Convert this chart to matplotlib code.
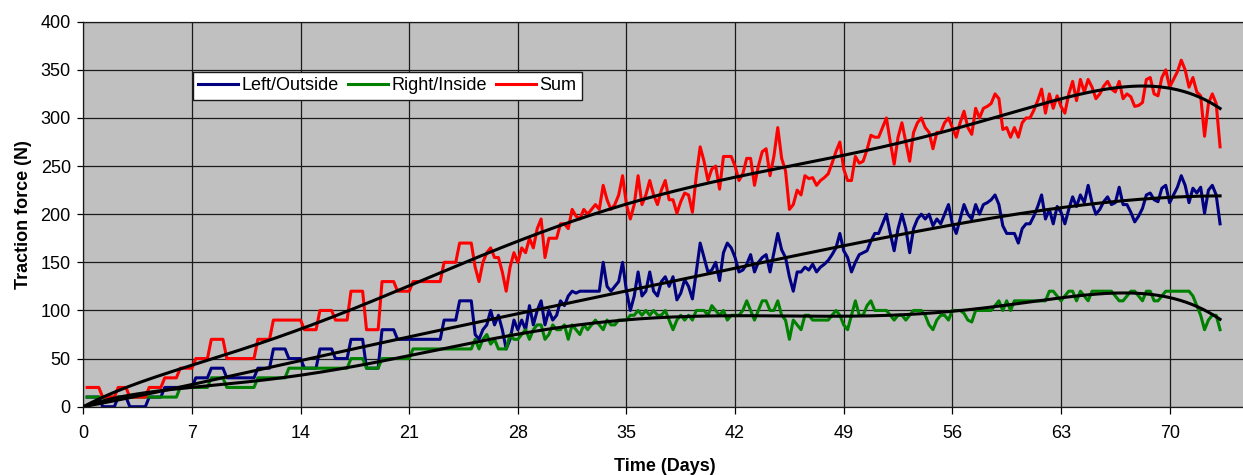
import matplotlib.pyplot as plt
import numpy as np

plt.rcParams['font.family'] = ['Liberation Sans', 'DejaVu Sans']

# readings every 6 hours, starting at 0.25 days
days = np.arange(1, 294) * 0.25

left_outside = [
    10, 10, 10, 10, 0, 0, 0, 0, 10, 10, 10, 0, 0, 0, 0, 0,
    10, 10, 10, 10, 20, 20, 20, 20, 20, 20, 20, 20, 30, 30, 30, 30,
    40, 40, 40, 40, 30, 30, 30, 30, 30, 30, 30, 30, 40, 40, 40, 40,
    60, 60, 60, 60, 50, 50, 50, 50, 40, 40, 40, 40, 60, 60, 60, 60,
    50, 50, 50, 50, 70, 70, 70, 70, 40, 40, 40, 40, 80, 80, 80, 80,
    70, 70, 70, 70, 70, 70, 70, 70, 70, 70, 70, 70, 90, 90, 90, 90,
    110, 110, 110, 110, 75, 70, 80, 85, 100, 85, 95, 80, 60, 70, 90, 80,
    90, 80, 105, 85, 100, 110, 85, 100, 90, 95, 110, 105, 115, 120, 118, 120,
    120, 120, 120, 120, 120, 150, 125, 120, 125, 130, 150, 120, 100, 115, 140, 115,
    120, 140, 120, 115, 130, 135, 125, 135, 111, 118, 132, 125, 112, 140, 170, 155,
    140, 142, 150, 131, 160, 170, 165, 155, 140, 142, 148, 158, 140, 150, 155, 158,
    140, 160, 180, 163, 155, 135, 120, 140, 140, 145, 142, 148, 140, 145, 148, 152,
    158, 165, 180, 162, 155, 140, 150, 158, 160, 162, 172, 180, 180, 190, 200, 180,
    162, 185, 200, 185, 160, 185, 195, 200, 195, 200, 188, 195, 190, 200, 210, 190,
    180, 195, 210, 200, 195, 210, 200, 210, 212, 215, 220, 210, 188, 180, 180, 180,
    170, 185, 190, 190, 198, 208, 220, 195, 205, 190, 208, 202, 190, 205, 218, 208,
    220, 212, 230, 212, 200, 205, 213, 218, 210, 212, 228, 210, 210, 202, 192, 198,
    206, 220, 222, 215, 213, 227, 230, 212, 220, 228, 240, 230, 212, 227, 222, 228,
    201, 225, 230, 220, 190,
]

right_inside = [
    10, 10, 10, 10, 10, 10, 10, 10, 10, 10, 10, 10, 10, 10, 10, 10,
    10, 10, 10, 10, 10, 10, 10, 10, 20, 20, 20, 20, 20, 20, 20, 20,
    30, 30, 30, 30, 20, 20, 20, 20, 20, 20, 20, 20, 30, 30, 30, 30,
    30, 30, 30, 30, 40, 40, 40, 40, 40, 40, 40, 40, 40, 40, 40, 40,
    40, 40, 40, 40, 50, 50, 50, 50, 40, 40, 40, 40, 50, 50, 50, 50,
    50, 50, 50, 50, 60, 60, 60, 60, 60, 60, 60, 60, 60, 60, 60, 60,
    60, 60, 60, 60, 70, 60, 70, 75, 65, 70, 60, 60, 60, 75, 70, 70,
    75, 80, 70, 80, 85, 85, 70, 75, 85, 80, 80, 85, 70, 85, 80, 75,
    85, 80, 85, 90, 85, 80, 90, 85, 85, 90, 90, 90, 95, 95, 100, 95,
    100, 95, 100, 95, 95, 100, 90, 80, 90, 95, 90, 95, 90, 100, 100, 100,
    95, 105, 100, 95, 100, 90, 95, 95, 95, 100, 110, 100, 90, 100, 110, 110,
    100, 100, 110, 95, 90, 70, 90, 85, 80, 95, 95, 90, 90, 90, 90, 90,
    95, 100, 95, 85, 80, 95, 110, 95, 95, 105, 110, 100, 100, 100, 100, 95,
    90, 95, 95, 90, 95, 100, 100, 100, 95, 85, 80, 90, 95, 95, 90, 100,
    100, 100, 97, 90, 88, 100, 100, 100, 100, 100, 105, 110, 100, 110, 100, 110,
    110, 110, 110, 110, 110, 110, 110, 110, 120, 120, 115, 110, 115, 120, 120, 110,
    120, 115, 110, 120, 120, 120, 120, 120, 120, 115, 110, 110, 115, 120, 120, 115,
    110, 120, 120, 110, 110, 115, 120, 120, 120, 120, 120, 120, 120, 115, 105, 95,
    80, 90, 95, 95, 80,
]

left_outside = np.array(left_outside, dtype=float)
right_inside = np.array(right_inside, dtype=float)
total = left_outside + right_inside


def poly_trend(y, order=6):
    # polynomial trendline with the intercept fixed at zero
    s = days / days[-1]
    A = np.column_stack([s ** k for k in range(1, order + 1)])
    coef, *_ = np.linalg.lstsq(A, y, rcond=None)
    tt = np.linspace(0, days[-1], 400)
    st = tt / days[-1]
    return tt, np.column_stack([st ** k for k in range(1, order + 1)]) @ coef


fig = plt.figure(figsize=(12.43, 4.75), dpi=100)
ax = fig.add_axes([0.067, 0.1438, 0.9364, 0.8105])
ax.set_facecolor('#c0c0c0')

ax.plot(days, left_outside, color='#000080', lw=2.2, label='Left/Outside')
ax.plot(days, right_inside, color='#008000', lw=2.2, label='Right/Inside')
ax.plot(days, total, color='#ff0000', lw=2.2, label='Sum')
for y in (left_outside, right_inside, total):
    tt, yy = poly_trend(y)
    ax.plot(tt, yy, color='black', lw=2.2, zorder=3)

ax.set_xlim(0, 75)
ax.set_ylim(0, 400)
ax.set_xticks(range(0, 71, 7))
ax.set_yticks(range(0, 401, 50))
ax.grid(True, color='#1a1a1a', lw=0.9)
ax.set_axisbelow(True)
ax.spines['right'].set_visible(False)
for side in ('left', 'bottom', 'top'):
    ax.spines[side].set_linewidth(0.9)
    ax.spines[side].set_color('#1a1a1a')

ax.tick_params(axis='x', length=5, width=0.9, pad=8, labelsize=13)
ax.tick_params(axis='y', length=4, width=0.9, pad=5, labelsize=13)
ax.set_xlabel('Time (Days)', fontsize=13, fontweight='bold', labelpad=12)
ax.set_ylabel('Traction force (N)', fontsize=13, fontweight='bold', labelpad=6)

leg = ax.legend(loc='upper left', bbox_to_anchor=(193 / 1243, 1 - 71.7 / 475),
                bbox_transform=fig.transFigure, ncol=3, fontsize=13,
                frameon=True, fancybox=False, edgecolor='#1a1a1a', framealpha=1,
                handlelength=2.2, handletextpad=0.2, columnspacing=0.5,
                borderpad=0.3, borderaxespad=0)
leg.get_frame().set_linewidth(1.0)

fig.savefig('out.png', dpi=100)
